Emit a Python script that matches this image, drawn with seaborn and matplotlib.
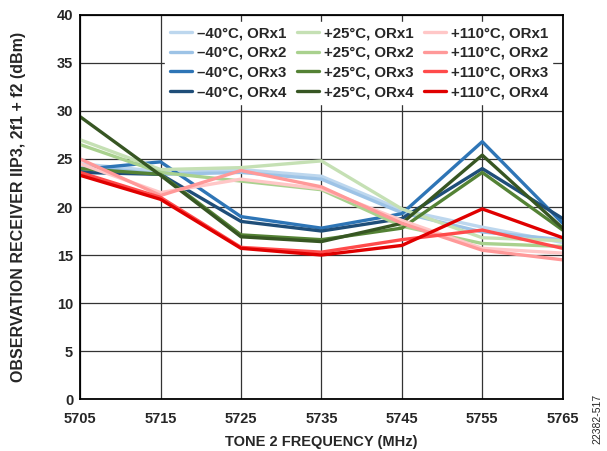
import pandas as pd
import matplotlib
matplotlib.use("Agg")
import matplotlib.pyplot as plt
import seaborn as sns

freq = [5705, 5715, 5725, 5735, 5745, 5755, 5765]

m40_orx1 = [24.5, 23.7, 23.9, 23.2, 19.7, 17.9, 16.3]
m40_orx2 = [24.3, 23.4, 23.6, 22.9, 19.4, 17.4, 16.6]
m40_orx3 = [23.9, 24.7, 19.0, 17.8, 19.3, 26.8, 18.3]
m40_orx4 = [23.6, 23.4, 18.5, 17.5, 18.8, 24.0, 18.8]
p25_orx1 = [27.0, 23.9, 24.1, 24.8, 19.8, 16.8, 16.5]
p25_orx2 = [26.5, 23.6, 22.7, 21.8, 18.0, 16.2, 15.9]
p25_orx3 = [24.0, 23.4, 17.1, 16.6, 17.8, 23.6, 17.6]
p25_orx4 = [29.4, 23.3, 16.9, 16.4, 18.3, 25.4, 17.8]
p110_orx1 = [24.5, 21.5, 22.9, 21.9, 18.6, 15.7, 15.2]
p110_orx2 = [25.0, 21.2, 23.8, 22.1, 18.3, 15.5, 14.5]
p110_orx3 = [23.6, 21.0, 15.8, 15.3, 16.6, 17.6, 15.7]
p110_orx4 = [23.3, 20.8, 15.7, 15.0, 16.0, 19.8, 16.8]

series = {
    "\u201340°C, ORx1": m40_orx1,
    "\u201340°C, ORx2": m40_orx2,
    "\u201340°C, ORx3": m40_orx3,
    "\u201340°C, ORx4": m40_orx4,
    "+25°C, ORx1": p25_orx1,
    "+25°C, ORx2": p25_orx2,
    "+25°C, ORx3": p25_orx3,
    "+25°C, ORx4": p25_orx4,
    "+110°C, ORx1": p110_orx1,
    "+110°C, ORx2": p110_orx2,
    "+110°C, ORx3": p110_orx3,
    "+110°C, ORx4": p110_orx4,
}
colors = ["#bdd7ee", "#9dc3e6", "#2e75b6", "#1f4e79",
          "#c5e0b4", "#a9d18e", "#548235", "#375623",
          "#ffc7c7", "#ff9999", "#ff4b4b", "#e00000"]
names = list(series.keys())
palette = dict(zip(names, colors))

rows = []
for name, vals in series.items():
    for f, v in zip(freq, vals):
        rows.append({"freq": f, "val": v, "series": name})
df = pd.DataFrame(rows)

sns.set_theme(style="white")
plt.rcParams["font.family"] = ["Liberation Sans", "DejaVu Sans"]
plt.rcParams["font.weight"] = "bold"

fig = plt.figure(figsize=(6.07, 4.51), dpi=100)
ax = fig.add_axes([0.132, 0.115, 0.795, 0.852])

sns.lineplot(data=df, x="freq", y="val", hue="series", hue_order=names,
             palette=palette, linewidth=2.4, ax=ax, legend=True)

ax.set_xlim(5705, 5765)
ax.set_ylim(0, 40)
ax.set_xticks(freq)
ax.set_yticks(range(0, 41, 5))
ax.grid(True, color="#333333", linewidth=0.9)
ax.set_axisbelow(True)
for s in ax.spines.values():
    s.set_color("black")
    s.set_linewidth(1.3)
ax.tick_params(axis="both", length=0, labelsize=10.5)
ax.tick_params(axis="x", pad=9)
ax.tick_params(axis="y", pad=5)
for lab in ax.get_xticklabels() + ax.get_yticklabels():
    lab.set_fontweight("bold")
ax.set_xlabel("TONE 2 FREQUENCY (MHz)", fontsize=10.5, fontweight="bold", labelpad=7)
ax.set_ylabel("OBSERVATION RECEIVER IIP3, 2f1 + f2 (dBm)", fontsize=11.5,
              fontweight="bold", labelpad=22)

handles, labels = ax.get_legend_handles_labels()
leg = ax.legend(handles, labels, ncol=3, loc="upper right",
                bbox_to_anchor=(0.985, 0.99), frameon=True, fancybox=False,
                prop={"weight": "bold", "size": 10.8}, handlelength=1.5,
                handletextpad=0.3, columnspacing=0.7, labelspacing=0.38,
                borderaxespad=0.2, borderpad=0.3)
leg.get_frame().set_facecolor("white")
leg.get_frame().set_edgecolor("white")
leg.get_frame().set_alpha(1)

fig.text(0.985, 0.015, "22382-517", rotation=90, fontsize=7.5, fontweight="normal",
         ha="center", va="bottom")

fig.savefig("out.png", dpi=100)
